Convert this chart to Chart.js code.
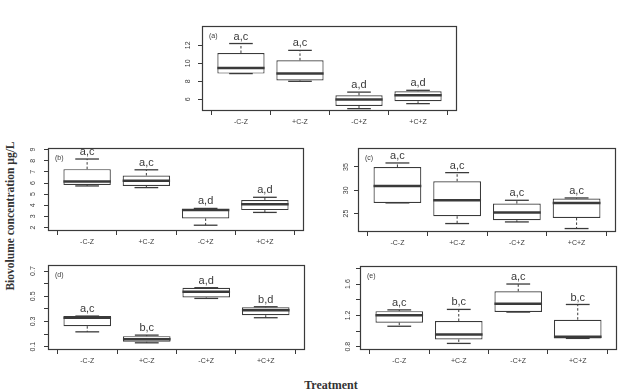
<!DOCTYPE html>
<html>
<head>
<meta charset="utf-8">
<script src="https://cdn.jsdelivr.net/npm/chart.js@4.4.1/dist/chart.umd.min.js"></script>
<style>
  html, body { margin: 0; padding: 0; background: #fff; }
  #wrap { position: relative; width: 624px; height: 392px; overflow: hidden; background: #fff; }
  #wrap canvas { position: absolute; }
  .ytitle {
    position: absolute; left: 10px; top: 216px;
    transform: translate(-50%, -50%) rotate(-90deg);
    font: bold 11.5px 'Liberation Serif', 'Times New Roman', serif; color: #333; white-space: nowrap;
  }
  .xtitle {
    position: absolute; left: 331px; top: 385px;
    transform: translate(-50%, -50%);
    font: bold 12px 'Liberation Serif', 'Times New Roman', serif; color: #333; white-space: nowrap;
  }
</style>
</head>
<body>
<div id="wrap">
  <div class="ytitle">Biovolume concentration µg/L</div>
  <div class="xtitle">Treatment</div>
</div>
<script>
'use strict';

/* ── Data ───────────────────────────────────────────────── */
const treatments = ['-C-Z', '+C-Z', '-C+Z', '+C+Z'];
const positions = [1, 2, 3, 4];

// (a)
const aLow = [8.86, 8.0, 4.96, 5.52];
const aQ1 = [8.86, 8.1, 5.26, 5.78];
const aMed = [9.48, 8.86, 5.97, 6.44];
const aQ3 = [11.15, 10.33, 6.44, 6.89];
const aHigh = [12.2, 11.44, 6.8, 7.0];
const aLetters = ['a,c', 'a,c', 'a,d', 'a,d'];
const aTicks = [6, 8, 10, 12];
const aTickLabels = ['6', '8', '10', '12'];

// (b)
const bLow = [5.74, 5.59, 2.21, 3.36];
const bQ1 = [5.83, 5.74, 2.82, 3.57];
const bMed = [6.13, 6.2, 3.57, 4.09];
const bQ3 = [7.25, 6.68, 3.66, 4.48];
const bHigh = [8.16, 7.19, 3.72, 4.72];
const bLetters = ['a,c', 'a,c', 'a,d', 'a,d'];
const bTicks = [2, 3, 4, 5, 6, 7, 8, 9];
const bTickLabels = ['2', '3', '4', '5', '6', '7', '8', '9'];

// (c)
const cLow = [27.3, 22.87, 23.22, 21.8];
const cQ1 = [27.3, 24.44, 23.58, 24.08];
const cMed = [30.9, 27.86, 25.22, 27.29];
const cQ3 = [35.0, 31.94, 27.15, 28.22];
const cHigh = [35.86, 33.79, 27.86, 28.36];
const cLetters = ['a,c', 'a,c', 'a,c', 'a,c'];
const cTicks = [25, 30, 35];
const cTickLabels = ['25', '30', '35'];

// (d)
const dLow = [0.218, 0.131, 0.483, 0.33];
const dQ1 = [0.263, 0.139, 0.491, 0.35];
const dMed = [0.33, 0.16, 0.536, 0.39];
const dQ3 = [0.343, 0.184, 0.568, 0.412];
const dHigh = [0.343, 0.192, 0.568, 0.417];
const dLetters = ['a,c', 'b,c', 'a,d', 'b,d'];
const dTicks = [0.1, 0.2, 0.3, 0.4, 0.5, 0.6, 0.7];
const dTickLabels = ['0.1', '', '0.3', '', '0.5', '', '0.7'];

// (e)
const eLow = [1.061, 0.842, 1.242, 0.906];
const eQ1 = [1.107, 0.893, 1.242, 0.906];
const eMed = [1.2, 0.956, 1.347, 0.926];
const eQ3 = [1.254, 1.128, 1.507, 1.145];
const eHigh = [1.27, 1.276, 1.6, 1.339];
const eLetters = ['a,c', 'b,c', 'a,c', 'b,c'];
const eTicks = [0.8, 1.0, 1.2, 1.4, 1.6, 1.8];
const eTickLabels = ['0.8', '', '1.2', '', '1.6', ''];

/* ── Layout ─────────────────────────────────────────────── */
const INK = '#3a3a3a';
const AX = 30, XH = 26, PT = 16, PR = 6;

const panels = [
  { tag: '(a)', box: [202, 26, 457, 111], yMin: 4.7, yMax: 14.15, pad: 6,
    low: aLow, q1: aQ1, med: aMed, q3: aQ3, high: aHigh, letters: aLetters, ticks: aTicks, tickLabels: aTickLabels },
  { tag: '(b)', box: [48, 148, 304, 231], yMin: 1.69, yMax: 9.15, pad: 9,
    low: bLow, q1: bQ1, med: bMed, q3: bQ3, high: bHigh, letters: bLetters, ticks: bTicks, tickLabels: bTickLabels },
  { tag: '(c)', box: [358, 148, 616, 232], yMin: 21.06, yMax: 39.07, pad: 4,
    low: cLow, q1: cQ1, med: cMed, q3: cQ3, high: cHigh, letters: cLetters, ticks: cTicks, tickLabels: cTickLabels },
  { tag: '(d)', box: [48, 265, 305, 350], yMin: 0.074, yMax: 0.748, pad: 6,
    low: dLow, q1: dQ1, med: dMed, q3: dQ3, high: dHigh, letters: dLetters, ticks: dTicks, tickLabels: dTickLabels },
  { tag: '(e)', box: [360, 266, 617, 350], yMin: 0.758, yMax: 1.83, pad: 3,
    low: eLow, q1: eQ1, med: eMed, q3: eQ3, high: eHigh, letters: eLetters, ticks: eTicks, tickLabels: eTickLabels }
];

/* ── Whiskers, medians, letters, frame ─────────────────── */
const boxDecor = {
  id: 'boxDecor',
  afterDatasetsDraw(chart, args, p) {
    const { ctx, chartArea: ca, scales: { y } } = chart;
    const meta = chart.getDatasetMeta(0);
    const line = (x1, y1, x2, y2) => { ctx.beginPath(); ctx.moveTo(x1, y1); ctx.lineTo(x2, y2); ctx.stroke(); };
    ctx.save();
    ctx.strokeStyle = INK;
    ctx.fillStyle = INK;
    meta.data.forEach((bar, i) => {
      const half = bar.width / 2, cap = bar.width / 4;
      const yLow = y.getPixelForValue(p.low[i]);
      const yQ1 = y.getPixelForValue(p.q1[i]);
      const yMed = y.getPixelForValue(p.med[i]);
      const yQ3 = y.getPixelForValue(p.q3[i]);
      const yHigh = y.getPixelForValue(p.high[i]);

      ctx.lineWidth = 1;
      ctx.setLineDash([2.5, 2]);
      if (yHigh < yQ3) line(bar.x, yQ3, bar.x, yHigh);
      if (yLow > yQ1) line(bar.x, yQ1, bar.x, yLow);
      ctx.setLineDash([]);
      ctx.lineWidth = 1.3;
      line(bar.x - cap, yHigh, bar.x + cap, yHigh);
      line(bar.x - cap, yLow, bar.x + cap, yLow);

      ctx.lineWidth = 2.5;
      line(bar.x - half, yMed, bar.x + half, yMed);

      ctx.font = '11px "Liberation Sans", Arial, sans-serif';
      ctx.textAlign = 'center';
      ctx.textBaseline = 'bottom';
      ctx.fillText(p.letters[i], bar.x, yHigh - 1.5);
    });

    ctx.font = '7px "Liberation Sans", Arial, sans-serif';
    ctx.textAlign = 'left';
    ctx.textBaseline = 'middle';
    ctx.fillText(p.tag, ca.left + 7, ca.top + 10);

    ctx.lineWidth = 1.2;
    ctx.strokeRect(Math.round(ca.left) + 0.5, Math.round(ca.top) + 0.5,
      Math.round(ca.width) - 1, Math.round(ca.height) - 1);
    ctx.restore();
  }
};

/* ── Charts ─────────────────────────────────────────────── */
const wrap = document.getElementById('wrap');
const tickFont = { family: '"Liberation Sans", Arial, sans-serif', size: 7 };

panels.forEach(p => {
  const [L, T, R, B] = p.box;
  const cv = document.createElement('canvas');
  cv.width = R - L + AX + PR;
  cv.height = B - T + PT + XH;
  cv.style.left = (L - AX) + 'px';
  cv.style.top = (T - PT) + 'px';
  wrap.appendChild(cv);

  new Chart(cv, {
    type: 'bar',
    data: {
      datasets: [{
        data: positions.map((x, i) => ({ x, y: [p.q1[i], p.q3[i]] })),
        backgroundColor: '#ffffff',
        borderColor: INK,
        borderWidth: 1.2,
        borderSkipped: false,
        categoryPercentage: 1,
        barPercentage: 0.8
      }]
    },
    options: {
      responsive: false,
      animation: false,
      events: [],
      layout: { padding: { left: 0, top: PT, right: PR, bottom: 0 } },
      plugins: { legend: { display: false }, tooltip: { enabled: false }, boxDecor: p },
      scales: {
        x: {
          type: 'linear',
          min: 0.34,
          max: 4.66,
          offset: false,
          afterBuildTicks: s => { s.ticks = positions.map(v => ({ value: v })); },
          afterFit: s => { s.height = XH; },
          ticks: { font: tickFont, color: INK, padding: 3, maxRotation: 0,
            callback: (v, i) => treatments[i] },
          grid: { drawOnChartArea: false, drawTicks: true, tickLength: 4, color: INK },
          border: { display: false }
        },
        y: {
          min: p.yMin,
          max: p.yMax,
          afterBuildTicks: s => { s.ticks = p.ticks.map(v => ({ value: v })); },
          afterFit: s => { s.width = AX; },
          ticks: { font: tickFont, color: INK, padding: p.pad, minRotation: 90, maxRotation: 90,
            crossAlign: 'center', callback: (v, i) => p.tickLabels[i] },
          grid: { drawOnChartArea: false, drawTicks: true, tickLength: 4, color: INK },
          border: { display: false }
        }
      }
    },
    plugins: [boxDecor]
  });
});
</script>
</body>
</html>
